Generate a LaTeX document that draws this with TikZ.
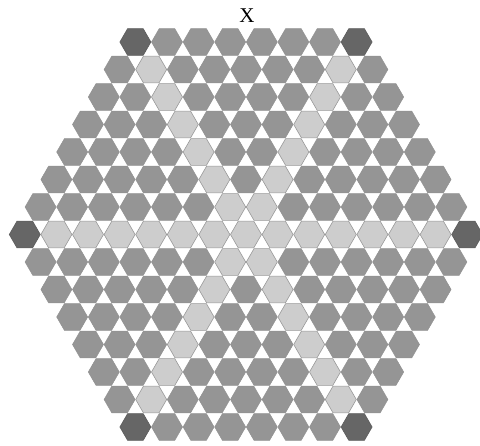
\documentclass[tikz,border=0pt]{standalone}
\usepackage{fontspec}
\setmainfont{Liberation Serif}
\tikzset{
  boardhex/.style={fill=hexmid, draw=hexmidline, line width=0.5pt},
  axishex/.style={fill=hexlight, draw=hexlightline, line width=0.6pt},
  cornerhex/.style={fill=hexdark, draw=hexdarkline, line width=0.6pt},
  titletext/.style={font=\fontsize{21}{24}\selectfont, inner sep=0pt}
}
\definecolor{hexmid}{HTML}{959595}
\definecolor{hexmidline}{HTML}{929292}
\definecolor{hexlight}{HTML}{CDCDCD}
\definecolor{hexlightline}{HTML}{999999}
\definecolor{hexdark}{HTML}{666666}
\definecolor{hexdarkline}{HTML}{5C5C5C}
\newcommand\hr{15.5}
\newcommand\hexshape{+(0:\hr) -- +(60:\hr) -- +(120:\hr) -- +(180:\hr) -- +(240:\hr) -- +(300:\hr) -- cycle}
\begin{document}
\begin{tikzpicture}[x=1pt,y=-1pt]
\useasboundingbox (0,0) rectangle (480,446);
\node[titletext] (title) at (247,15.5) {X};
\foreach \r in {0,...,14}{
  \pgfmathtruncatemacro\m{min(\r,14-\r)}
  \pgfmathtruncatemacro\n{8+\m}
  \pgfmathtruncatemacro\last{\n-1}
  \foreach \c in {0,...,\last}{
    \pgfmathsetmacro\hx{246-(\n-1)*15.8+31.6*\c}
    \pgfmathsetmacro\hy{42+27.5*\r}
    \pgfmathtruncatemacro\onaxis{(\r==7) || ((\r<7) && ((\c==\r) || (\c==7))) || ((\r>7) && ((\c==14-\r) || (\c==7)))}
    \pgfmathtruncatemacro\isend{((\c==0) || (\c==\last)) && ((\r==0) || (\r==14) || (\r==7))}
    \ifnum\isend=1
      \path[cornerhex] (\hx,\hy) \hexshape;
    \else
      \ifnum\onaxis=1
        \path[axishex] (\hx,\hy) \hexshape;
      \else
        \path[boardhex] (\hx,\hy) \hexshape;
      \fi
    \fi
  }
}
\end{tikzpicture}
\end{document}
